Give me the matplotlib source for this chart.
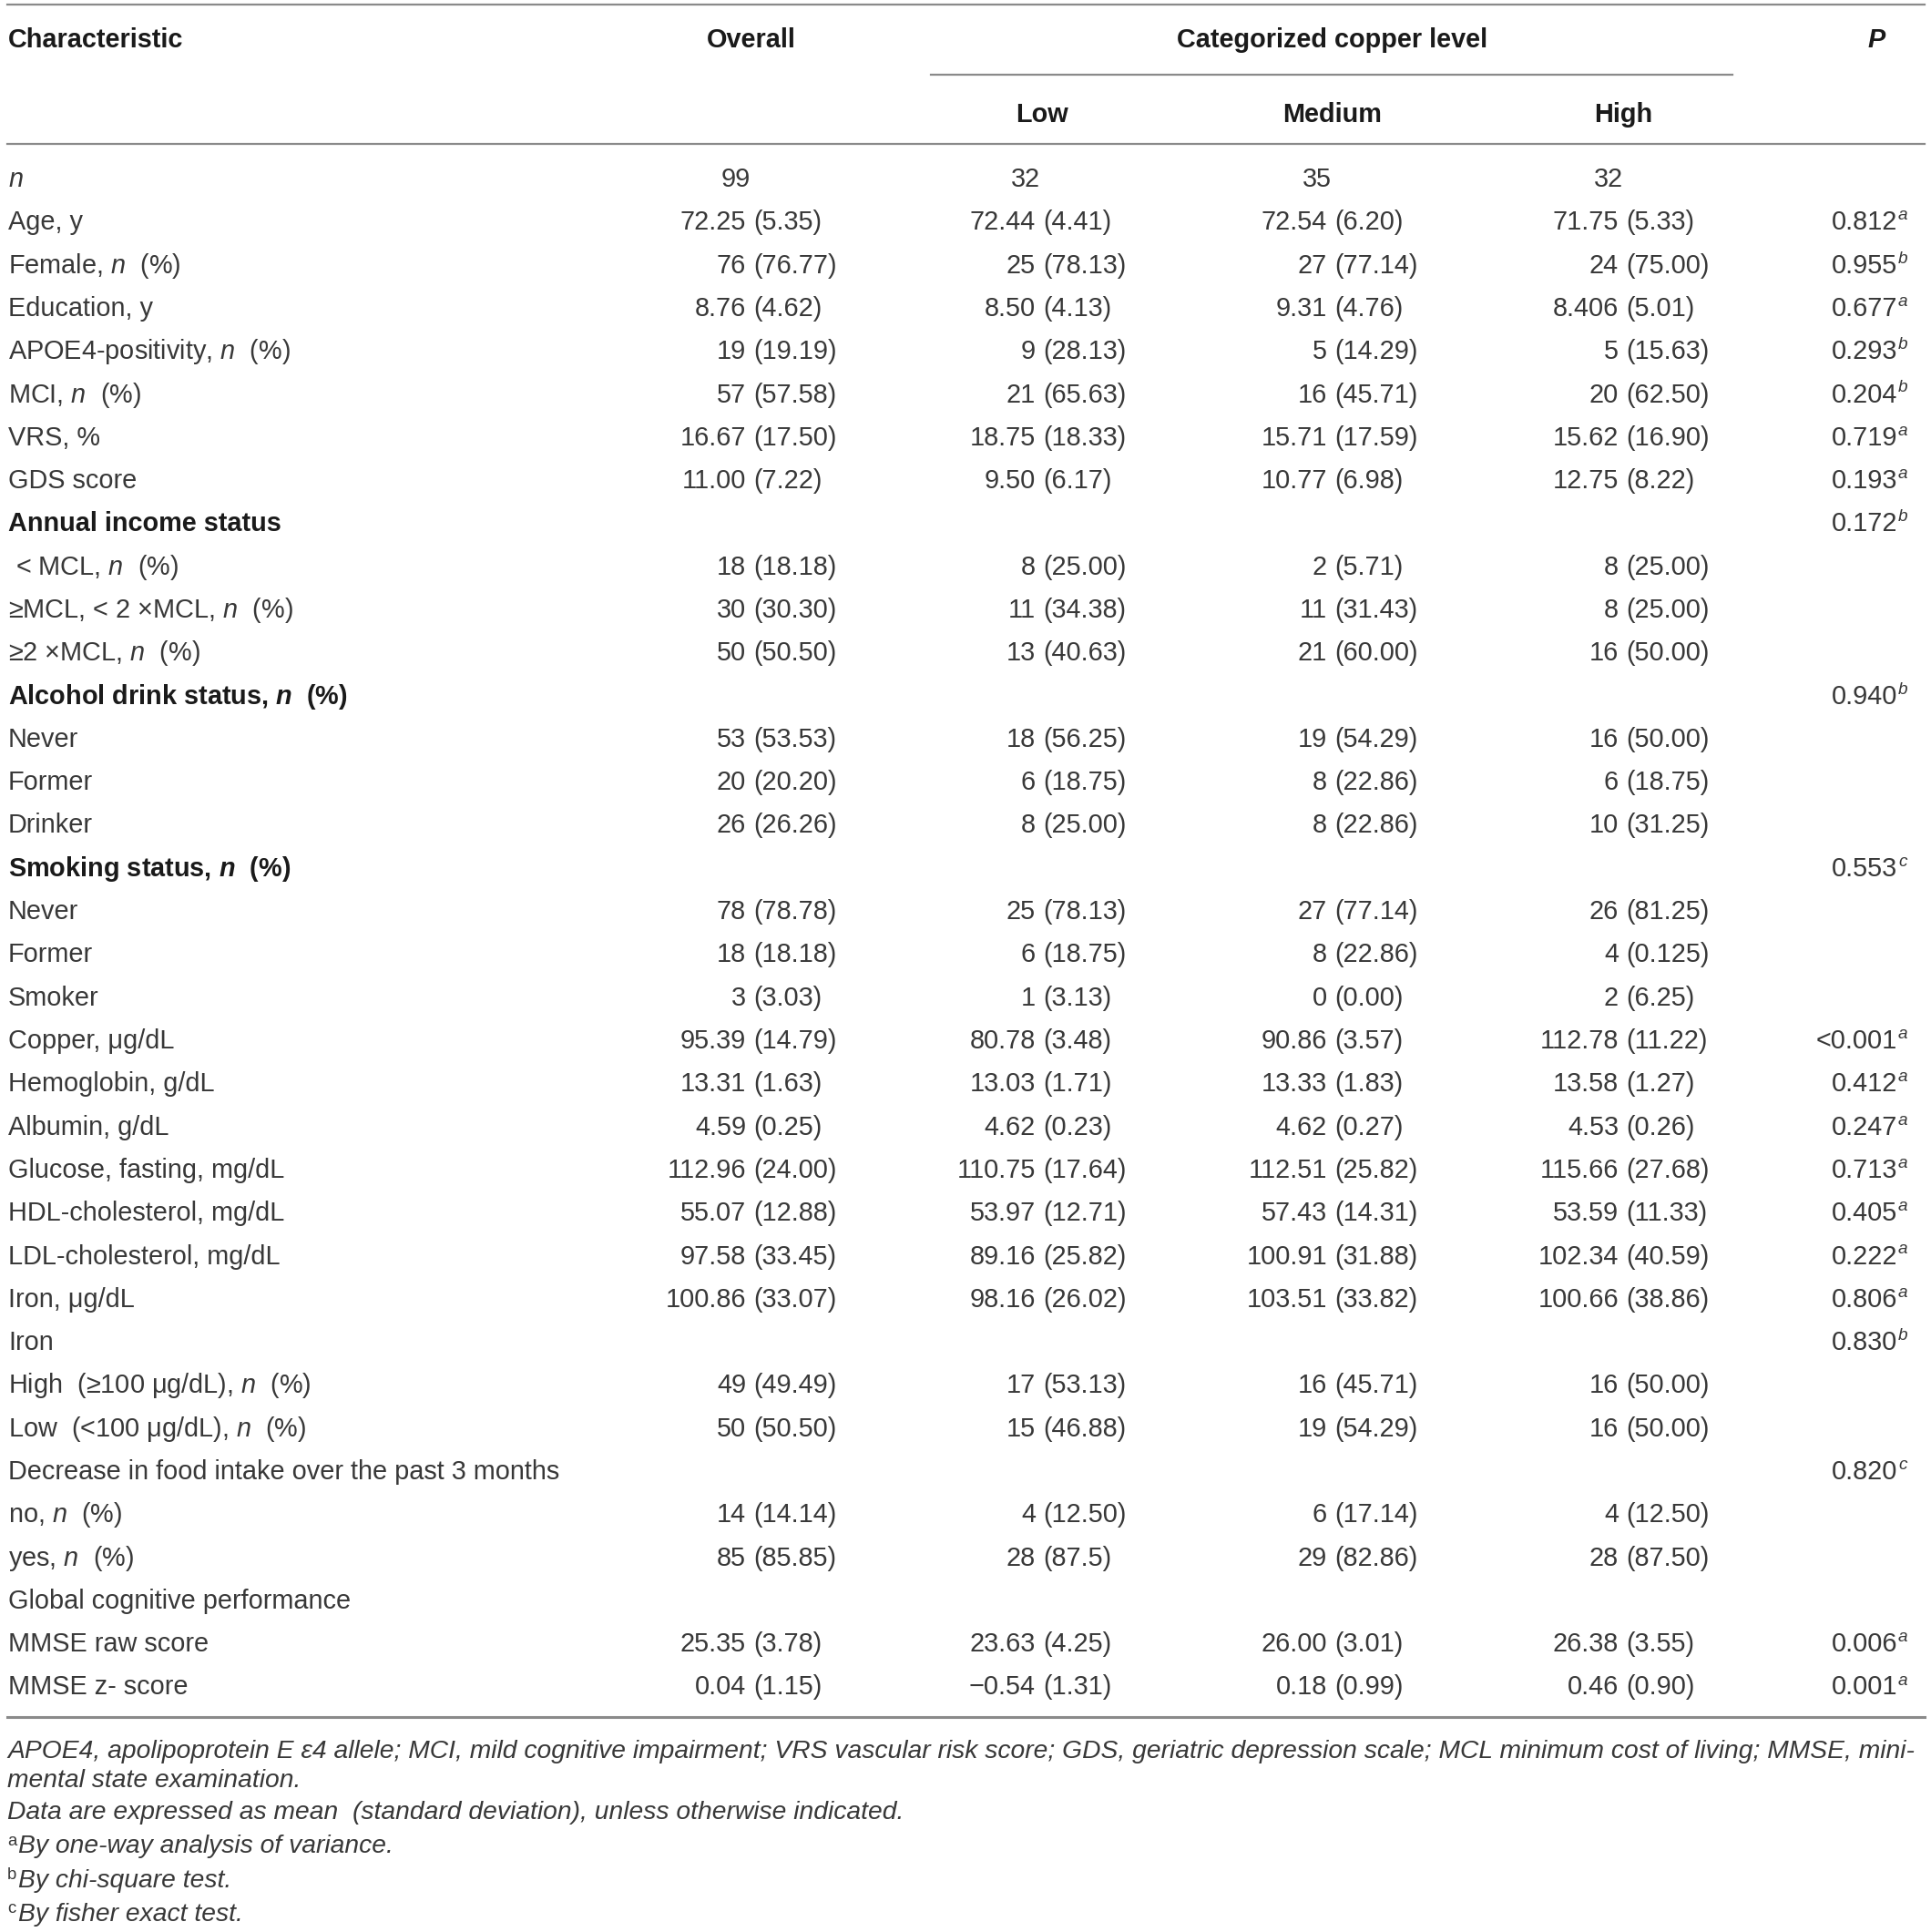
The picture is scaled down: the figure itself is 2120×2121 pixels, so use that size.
import matplotlib
matplotlib.use("Agg")
import matplotlib.pyplot as plt

plt.rcParams['font.family'] = ['Liberation Sans', 'DejaVu Sans']
plt.rcParams['mathtext.fontset'] = 'custom'
plt.rcParams['mathtext.rm'] = 'Liberation Sans'
plt.rcParams['mathtext.it'] = 'Liberation Sans:italic'
plt.rcParams['mathtext.bf'] = 'Liberation Sans:bold'
plt.rcParams['mathtext.bfit'] = 'Liberation Sans:italic:bold'

# ---------------- data ----------------
col_headers = ["Overall", "Low", "Medium", "High"]
group_header = "Categorized copper level"

labels = [
    "$n$", "Age, y", "Female, $n$  (%)", "Education, y", "APOE4-positivity, $n$  (%)",
    "MCI, $n$  (%)", "VRS, %", "GDS score", "Annual income status",
    " < MCL, $n$  (%)", "≥MCL, < 2 ×MCL, $n$  (%)", "≥2 ×MCL, $n$  (%)",
    r"Alcohol drink status, $\mathbfit{n}$  (%)", "Never", "Former", "Drinker",
    r"Smoking status, $\mathbfit{n}$  (%)", "Never", "Former", "Smoker",
    "Copper, μg/dL", "Hemoglobin, g/dL", "Albumin, g/dL", "Glucose, fasting, mg/dL",
    "HDL-cholesterol, mg/dL", "LDL-cholesterol, mg/dL", "Iron, μg/dL", "Iron",
    "High  (≥100 μg/dL), $n$  (%)", "Low  (<100 μg/dL), $n$  (%)",
    "Decrease in food intake over the past 3 months", "no, $n$  (%)", "yes, $n$  (%)",
    "Global cognitive performance", "MMSE raw score", "MMSE z- score",
]
section_rows = [8, 12, 16]

overall = ["99", "72.25 (5.35)", "76 (76.77)", "8.76 (4.62)", "19 (19.19)", "57 (57.58)",
           "16.67 (17.50)", "11.00 (7.22)", "", "18 (18.18)", "30 (30.30)", "50 (50.50)", "",
           "53 (53.53)", "20 (20.20)", "26 (26.26)", "", "78 (78.78)", "18 (18.18)", "3 (3.03)",
           "95.39 (14.79)", "13.31 (1.63)", "4.59 (0.25)", "112.96 (24.00)", "55.07 (12.88)",
           "97.58 (33.45)", "100.86 (33.07)", "", "49 (49.49)", "50 (50.50)", "",
           "14 (14.14)", "85 (85.85)", "", "25.35 (3.78)", "0.04 (1.15)"]
low = ["32", "72.44 (4.41)", "25 (78.13)", "8.50 (4.13)", "9 (28.13)", "21 (65.63)",
       "18.75 (18.33)", "9.50 (6.17)", "", "8 (25.00)", "11 (34.38)", "13 (40.63)", "",
       "18 (56.25)", "6 (18.75)", "8 (25.00)", "", "25 (78.13)", "6 (18.75)", "1 (3.13)",
       "80.78 (3.48)", "13.03 (1.71)", "4.62 (0.23)", "110.75 (17.64)", "53.97 (12.71)",
       "89.16 (25.82)", "98.16 (26.02)", "", "17 (53.13)", "15 (46.88)", "",
       "4 (12.50)", "28 (87.5)", "", "23.63 (4.25)", "−0.54 (1.31)"]
medium = ["35", "72.54 (6.20)", "27 (77.14)", "9.31 (4.76)", "5 (14.29)", "16 (45.71)",
          "15.71 (17.59)", "10.77 (6.98)", "", "2 (5.71)", "11 (31.43)", "21 (60.00)", "",
          "19 (54.29)", "8 (22.86)", "8 (22.86)", "", "27 (77.14)", "8 (22.86)", "0 (0.00)",
          "90.86 (3.57)", "13.33 (1.83)", "4.62 (0.27)", "112.51 (25.82)", "57.43 (14.31)",
          "100.91 (31.88)", "103.51 (33.82)", "", "16 (45.71)", "19 (54.29)", "",
          "6 (17.14)", "29 (82.86)", "", "26.00 (3.01)", "0.18 (0.99)"]
high = ["32", "71.75 (5.33)", "24 (75.00)", "8.406 (5.01)", "5 (15.63)", "20 (62.50)",
        "15.62 (16.90)", "12.75 (8.22)", "", "8 (25.00)", "8 (25.00)", "16 (50.00)", "",
        "16 (50.00)", "6 (18.75)", "10 (31.25)", "", "26 (81.25)", "4 (0.125)", "2 (6.25)",
        "112.78 (11.22)", "13.58 (1.27)", "4.53 (0.26)", "115.66 (27.68)", "53.59 (11.33)",
        "102.34 (40.59)", "100.66 (38.86)", "", "16 (50.00)", "16 (50.00)", "",
        "4 (12.50)", "28 (87.50)", "", "26.38 (3.55)", "0.46 (0.90)"]
p_values = ["", "0.812", "0.955", "0.677", "0.293", "0.204", "0.719", "0.193", "0.172",
            "", "", "", "0.940", "", "", "", "0.553", "", "", "",
            "<0.001", "0.412", "0.247", "0.713", "0.405", "0.222", "0.806", "0.830",
            "", "", "0.820", "", "", "", "0.006", "0.001"]
p_marks = ["", "a", "b", "a", "b", "b", "a", "a", "b",
           "", "", "", "b", "", "", "", "c", "", "", "",
           "a", "a", "a", "a", "a", "a", "a", "b",
           "", "", "c", "", "", "", "a", "a"]

footnotes = [
    ("", "APOE4, apolipoprotein E ε4 allele; MCI, mild cognitive impairment; VRS vascular risk score; "
         "GDS, geriatric depression scale; MCL minimum cost of living; MMSE, mini-"),
    ("", "mental state examination."),
    ("", "Data are expressed as mean  (standard deviation), unless otherwise indicated."),
    ("a", "By one-way analysis of variance."),
    ("b", "By chi-square test."),
    ("c", "By fisher exact test."),
]

# ---------------- layout ----------------
W, H = 2120, 2121
fig = plt.figure(figsize=(W / 100, H / 100), dpi=100)
fig.patch.set_facecolor("white")

def fx(px):
    return px / W

def fy(py):
    return 1 - py / H

FS = 20.8
TXT = "#383838"
HDR = "#1a1a1a"
LINE = "#8a8a8a"

def hline(y, x0, x1, lw=1.6):
    fig.add_artist(plt.Line2D([fx(x0), fx(x1)], [fy(y), fy(y)], color=LINE, lw=lw,
                              transform=fig.transFigure))

hline(5, 8, 2113)
hline(82, 1022, 1902)
hline(158, 8, 2113)
hline(1885, 8, 2113, lw=2.2)

# header
hb1 = 52.5
hb2 = 133.5
fig.text(fx(9), fy(hb1), "Characteristic", fontsize=FS, fontweight="bold", color=HDR, va="baseline")
fig.text(fx(825), fy(hb1), col_headers[0], fontsize=FS, fontweight="bold", color=HDR, va="baseline", ha="center")
fig.text(fx(1463), fy(hb1), group_header, fontsize=FS, fontweight="bold", color=HDR, va="baseline", ha="center")
fig.text(fx(2060), fy(hb1), "P", fontsize=FS, fontweight="bold", style="italic", color=HDR, va="baseline", ha="center")
for name, cx in zip(col_headers[1:], [1144, 1463, 1782]):
    fig.text(fx(cx), fy(hb2), name, fontsize=FS, fontweight="bold", color=HDR, va="baseline", ha="center")

# body
row0 = 194.5
dy = 47.3
paren_x = [827, 1145, 1465, 1785]
gap = 8
gap_n = 3
p_right = 2083

for i, lab in enumerate(labels):
    base = row0 + i * dy + 10.5
    bold = i in section_rows
    fig.text(fx(9), fy(base), lab, fontsize=FS, color=HDR if bold else TXT,
             fontweight="bold" if bold else "normal", va="baseline")
    for col, px in zip([overall, low, medium, high], paren_x):
        cell = col[i]
        if not cell:
            continue
        if " (" in cell:
            mean, sd = cell.split(" (", 1)
            fig.text(fx(px - gap), fy(base), mean, fontsize=FS, color=TXT, va="baseline", ha="right")
            fig.text(fx(px), fy(base), "(" + sd, fontsize=FS, color=TXT, va="baseline", ha="left")
        else:
            fig.text(fx(px - gap_n), fy(base), cell, fontsize=FS, color=TXT, va="baseline", ha="right")
    if p_values[i]:
        fig.text(fx(p_right), fy(base), p_values[i], fontsize=FS, color=TXT, va="baseline", ha="right")
        fig.text(fx(p_right + 1), fy(base - 11), p_marks[i], fontsize=FS * 0.66, color=TXT,
                 style="italic", va="baseline", ha="left")

# footnotes
foot_base = [1930, 1962, 1997, 2034.5, 2072, 2109]
for (mark, txt), base in zip(footnotes, foot_base):
    x = 8
    if mark:
        fig.text(fx(x), fy(base - 9), mark, fontsize=FS * 0.64, color=TXT, va="baseline", ha="left")
        x += 12
    fig.text(fx(x), fy(base), txt, fontsize=FS * 0.98, color=TXT, style="italic", va="baseline", ha="left")

fig.savefig("out.png", dpi=100, facecolor="white")
